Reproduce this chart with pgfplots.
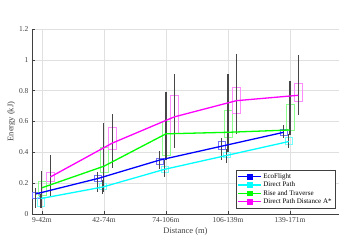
\documentclass[border=0pt]{standalone}
\usepackage{fontspec}
\setmainfont{Liberation Serif}
\usepackage{pgfplots}
\usepackage{pgfplotstable}
\pgfplotsset{compat=1.18}

\definecolor{gridc}{gray}{0.88}
\definecolor{axc}{gray}{0.25}
\definecolor{whc}{gray}{0.28}
\definecolor{cB}{rgb}{0,0,1}
\definecolor{cC}{rgb}{0,1,1}
\definecolor{cG}{rgb}{0,1,0}
\definecolor{cM}{rgb}{1,0,1}
\definecolor{bB}{rgb}{0.45,0.45,1}
\definecolor{bC}{rgb}{0.45,1,1}
\definecolor{bG}{rgb}{0.55,1,0.55}
\definecolor{bM}{rgb}{1,0.55,1}

% x = position, lw/uw = whiskers, q1/q3 = box, m = line value
\pgfplotstableread{
x    lw   q1   q3   uw   m
0.90 0.04 0.10 0.14 0.17 0.13
1.90 0.14 0.21 0.25 0.27 0.23
2.90 0.29 0.32 0.36 0.41 0.35
3.90 0.35 0.42 0.47 0.49 0.44
4.90 0.49 0.51 0.55 0.58 0.53
}\tblA
\pgfplotstableread{
x    lw   q1   q3   uw   m
0.98 0.04 0.05 0.11 0.13 0.10
1.98 0.13 0.16 0.20 0.22 0.175
2.98 0.24 0.27 0.31 0.35 0.29
3.98 0.33 0.37 0.40 0.42 0.38
4.98 0.43 0.45 0.50 0.52 0.47
}\tblB
\pgfplotstableread{
x    lw   q1   q3   uw   m
1.00 0.04 0.12 0.21 0.28 0.17
2.00 0.14 0.27 0.43 0.59 0.31
3.00 0.35 0.38 0.60 0.79 0.52
4.00 0.40 0.50 0.67 0.91 0.53
5.00 0.51 0.545 0.71 0.86 0.545
}\tblC
\pgfplotstableread{
x     lw   q1   q3   uw   m
1.135 0.11 0.21 0.27 0.38 0.24
2.135 0.30 0.42 0.56 0.65 0.46
3.135 0.43 0.52 0.77 0.91 0.63
4.135 0.52 0.65 0.82 1.04 0.735
5.135 0.64 0.73 0.85 1.03 0.77
}\tblD

\pgfplotsset{whisk/.style={forget plot, draw=none, mark=none,
  error bars/.cd, y dir=both, y explicit, error mark=none,
  error bar style={draw=whc, line width=1.1pt}}}

\begin{document}
\begin{tikzpicture}
\begin{axis}[
  scale only axis,
  width=307pt, height=185pt,
  xmin=0.84, xmax=5.79,
  ymin=0, ymax=1.2,
  axis x line*=bottom, axis y line*=left,
  axis line style={axc, line width=0.5pt},
  xtick={1,2,3,4,5},
  xticklabels={9-42m,42-74m,74-106m,106-139m,139-171m},
  ytick={0,0.2,0.4,0.6,0.8,1,1.2},
  yticklabels={0,0.2,0.4,0.6,0.8,1,1.2},
  tick align=inside,
  major tick length=3pt,
  tick style={axc, line width=0.4pt},
  grid=major,
  major grid style={gridc, line width=0.4pt},
  ticklabel style={font=\fontsize{7.5}{9}\selectfont, text=axc},
  /pgf/number format/assume math mode=true,
  xlabel={Distance (m)},
  ylabel={Energy (kJ)},
  label style={font=\fontsize{8.5}{10}\selectfont, text=axc},
  xlabel style={yshift=2pt},
  ylabel style={yshift=-3pt},
  legend style={at={(0.987,0.03)}, anchor=south east,
    font=\fontsize{7}{8}\selectfont, draw=axc, line width=0.5pt,
    inner sep=1.2pt, row sep=-2pt, cells={anchor=west}},
  legend image code/.code={
    \draw[#1] (0cm,0cm) -- (0.78cm,0cm);
    \fill[#1] (0.39cm,0cm) ++(-2.3pt,-2.3pt) rectangle ++(4.6pt,4.6pt);
  },
]
% boxes
\addplot[forget plot, bB, line width=0.7pt] coordinates {(0.84,0.10)(0.96,0.10)(0.96,0.14)(0.84,0.14)(0.84,0.10)};
\addplot[forget plot, bB, line width=0.7pt] coordinates {(1.84,0.21)(1.96,0.21)(1.96,0.25)(1.84,0.25)(1.84,0.21)};
\addplot[forget plot, bB, line width=0.7pt] coordinates {(2.84,0.32)(2.96,0.32)(2.96,0.36)(2.84,0.36)(2.84,0.32)};
\addplot[forget plot, bB, line width=0.7pt] coordinates {(3.84,0.42)(3.96,0.42)(3.96,0.47)(3.84,0.47)(3.84,0.42)};
\addplot[forget plot, bB, line width=0.7pt] coordinates {(4.84,0.51)(4.96,0.51)(4.96,0.55)(4.84,0.55)(4.84,0.51)};

\addplot[forget plot, bC, line width=0.7pt] coordinates {(0.92,0.05)(1.04,0.05)(1.04,0.11)(0.92,0.11)(0.92,0.05)};
\addplot[forget plot, bC, line width=0.7pt] coordinates {(1.92,0.16)(2.04,0.16)(2.04,0.20)(1.92,0.20)(1.92,0.16)};
\addplot[forget plot, bC, line width=0.7pt] coordinates {(2.92,0.27)(3.04,0.27)(3.04,0.31)(2.92,0.31)(2.92,0.27)};
\addplot[forget plot, bC, line width=0.7pt] coordinates {(3.92,0.37)(4.04,0.37)(4.04,0.40)(3.92,0.40)(3.92,0.37)};
\addplot[forget plot, bC, line width=0.7pt] coordinates {(4.92,0.45)(5.04,0.45)(5.04,0.50)(4.92,0.50)(4.92,0.45)};

\addplot[forget plot, bG, line width=0.7pt] coordinates {(0.935,0.12)(1.065,0.12)(1.065,0.21)(0.935,0.21)(0.935,0.12)};
\addplot[forget plot, bG, line width=0.7pt] coordinates {(1.935,0.27)(2.065,0.27)(2.065,0.43)(1.935,0.43)(1.935,0.27)};
\addplot[forget plot, bG, line width=0.7pt] coordinates {(2.935,0.38)(3.065,0.38)(3.065,0.60)(2.935,0.60)(2.935,0.38)};
\addplot[forget plot, bG, line width=0.7pt] coordinates {(3.935,0.50)(4.065,0.50)(4.065,0.67)(3.935,0.67)(3.935,0.50)};
\addplot[forget plot, bG, line width=0.7pt] coordinates {(4.935,0.545)(5.065,0.545)(5.065,0.71)(4.935,0.71)(4.935,0.545)};

\addplot[forget plot, bM, line width=0.7pt] coordinates {(1.065,0.21)(1.205,0.21)(1.205,0.27)(1.065,0.27)(1.065,0.21)};
\addplot[forget plot, bM, line width=0.7pt] coordinates {(2.065,0.42)(2.205,0.42)(2.205,0.56)(2.065,0.56)(2.065,0.42)};
\addplot[forget plot, bM, line width=0.7pt] coordinates {(3.065,0.52)(3.205,0.52)(3.205,0.77)(3.065,0.77)(3.065,0.52)};
\addplot[forget plot, bM, line width=0.7pt] coordinates {(4.065,0.65)(4.205,0.65)(4.205,0.82)(4.065,0.82)(4.065,0.65)};
\addplot[forget plot, bM, line width=0.7pt] coordinates {(5.065,0.73)(5.205,0.73)(5.205,0.85)(5.065,0.85)(5.065,0.73)};

% whiskers
\addplot[whisk] table[x=x, y=m, y error plus expr=\thisrow{uw}-\thisrow{m}, y error minus expr=\thisrow{m}-\thisrow{lw}] {\tblA};
\addplot[whisk] table[x=x, y=m, y error plus expr=\thisrow{uw}-\thisrow{m}, y error minus expr=\thisrow{m}-\thisrow{lw}] {\tblB};
\addplot[whisk] table[x=x, y=m, y error plus expr=\thisrow{uw}-\thisrow{m}, y error minus expr=\thisrow{m}-\thisrow{lw}] {\tblC};
\addplot[whisk] table[x=x, y=m, y error plus expr=\thisrow{uw}-\thisrow{m}, y error minus expr=\thisrow{m}-\thisrow{lw}] {\tblD};

% lines
\addplot[cB, line width=1.3pt, mark=none] table[x=x, y=m] {\tblA};
\addlegendentry{EcoFlight}
\addplot[cC, line width=1.3pt, mark=none] table[x=x, y=m] {\tblB};
\addlegendentry{Direct Path}
\addplot[cG, line width=1.3pt, mark=none] table[x=x, y=m] {\tblC};
\addlegendentry{Rise and Traverse}
\addplot[cM, line width=1.3pt, mark=none] table[x=x, y=m] {\tblD};
\addlegendentry{Direct Path Distance A*}
\end{axis}
\pgfresetboundingbox
\path[use as bounding box] ([shift={(-32pt,-37pt)}]current axis.south west) rectangle ([shift={(18pt,29pt)}]current axis.north east);
\end{tikzpicture}
\end{document}
